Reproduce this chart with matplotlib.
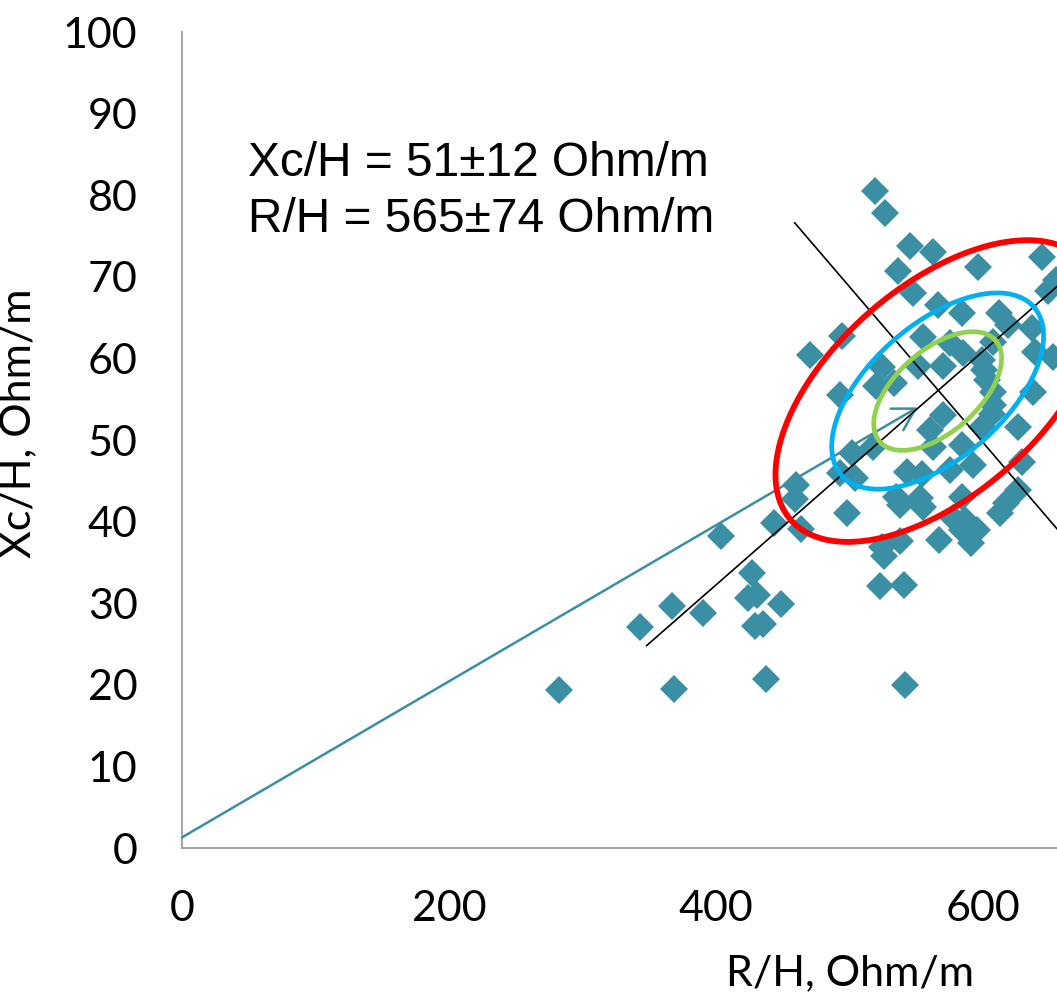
import numpy as np
import matplotlib
matplotlib.use("Agg")
import matplotlib.pyplot as plt

# scatter of measured values (R/H, Xc/H), Ohm/m
r_h = [282.4, 343.1, 367.0, 368.5, 390.3, 403.7, 427.0, 424.0, 430.7, 448.7,
       429.2, 435.2, 437.5, 443.4, 459.9, 459.2, 463.7, 470.4, 494.4, 492.9,
       492.9, 498.1, 501.9, 504.1, 517.6, 519.9, 533.3, 524.3, 519.1, 526.6,
       545.3, 562.5, 536.3, 596.3, 644.2, 547.6, 566.3, 584.3, 612.0, 618.7,
       636.7, 648.7, 654.7, 555.1, 575.3, 585.0, 607.5, 639.0, 652.4, 551.3,
       570.0, 599.3, 600.7, 603.0, 607.5, 607.5, 606.7, 570.0, 599.3, 560.3,
       562.5, 584.3, 592.5, 575.3, 543.1, 554.3, 534.8, 537.8, 552.8, 555.1,
       584.3, 626.2, 629.2, 637.5, 626.2, 617.2, 612.7, 577.5, 586.5, 584.3,
       595.5, 591.0, 567.0, 524.3, 525.8, 537.8, 522.8, 540.8, 541.6]
xc_h = [19.4, 27.1, 29.7, 19.5, 28.8, 38.2, 33.7, 30.6, 31.0, 29.9,
        27.2, 27.5, 20.7, 39.8, 44.5, 42.8, 39.1, 60.4, 62.7, 55.5,
        46.0, 41.1, 48.4, 45.3, 49.1, 56.6, 57.0, 58.9, 80.5, 77.8,
        73.8, 73.0, 70.7, 71.2, 72.4, 68.0, 66.5, 65.6, 65.6, 64.1,
        63.7, 68.3, 69.6, 62.6, 61.9, 60.7, 62.0, 60.8, 60.2, 59.1,
        59.1, 59.8, 58.6, 57.4, 55.9, 54.3, 53.2, 53.1, 51.6, 51.2,
        49.1, 49.4, 46.9, 46.3, 46.1, 45.8, 43.0, 42.0, 42.9, 41.8,
        43.0, 51.6, 47.3, 55.9, 43.9, 42.3, 41.1, 40.4, 40.2, 39.0,
        39.0, 37.4, 37.7, 36.9, 35.8, 37.6, 32.1, 32.2, 20.0]

# mean vector from the origin
vec_start = (0, 1.3)
vec_tip = (551, 54.0)

# tolerance ellipses: centre, conjugate semi-axes (green, blue, red)
ell_center = (566, 56)
ell_major = [(43.4, 6.2), (72.1, 10.3), (110.0, 15.8)]
ell_minor = [(-20.2, 3.8), (-33.1, 6.2), (-51.5, 9.6)]
ell_colors = ["#92D050", "#00B0F0", "#FF0000"]
ell_widths = [3.4, 3.4, 4.2]

# principal axes
major_axis = [(348, 24.8), (700, 75.2)]
minor_axis = [(459, 76.6), (700, 30.6)]

summary = ["Xc/H = 51\u00b112 Ohm/m", "R/H = 565\u00b174 Ohm/m"]

plt.rcParams["font.family"] = ["Lato", "DejaVu Sans"]

fig = plt.figure(figsize=(10.57, 9.97), dpi=100)
ax = fig.add_axes([182 / 1057, 149 / 997, 875 / 1057, 816 / 997])

teal = "#3A8FA5"
ax.annotate("", xy=vec_tip, xytext=vec_start,
            arrowprops=dict(arrowstyle="->,head_length=0.55,head_width=0.32",
                            color=teal, lw=1.8, mutation_scale=28,
                            shrinkA=0, shrinkB=0))

for (x0, y0), (x1, y1) in [major_axis, minor_axis]:
    ax.plot([x0, x1], [y0, y1], color="black", lw=1.2, zorder=3)

ax.plot(r_h, xc_h, linestyle="none", marker="D", markersize=14,
        color=teal, markeredgewidth=0, zorder=2)

t = np.linspace(0, 2 * np.pi, 400)
for maj, mnr, col, lw in zip(ell_major, ell_minor, ell_colors, ell_widths):
    ex = ell_center[0] + maj[0] * np.cos(t) + mnr[0] * np.sin(t)
    ey = ell_center[1] + maj[1] * np.cos(t) + mnr[1] * np.sin(t)
    ax.plot(ex, ey, color=col, lw=lw, zorder=4)

ax.set_xlim(0, 655.4)
ax.set_ylim(0, 100)
ax.set_xticks([0, 200, 400, 600])
ax.set_yticks(range(0, 101, 10))
ax.tick_params(length=0, labelsize=31)
ax.tick_params(axis="x", pad=30)
ax.tick_params(axis="y", pad=32)

for s in ["top", "right"]:
    ax.spines[s].set_visible(False)
for s in ["left", "bottom"]:
    ax.spines[s].set_color("#A6A6A6")
    ax.spines[s].set_linewidth(1.5)

ax.set_xlabel("R/H, Ohm/m", fontsize=31)
ax.xaxis.set_label_coords(0.763, -0.13)
ax.set_ylabel("Xc/H, Ohm/m", fontsize=31)
ax.yaxis.set_label_coords(-0.165, 0.52)

for i, line in enumerate(summary):
    fig.text(248 / 1057, 1 - (163 + 57 * i) / 997, line, fontsize=34.5,
             family=["Liberation Sans", "DejaVu Sans"], va="center", ha="left")

fig.savefig("out.png", dpi=100)
